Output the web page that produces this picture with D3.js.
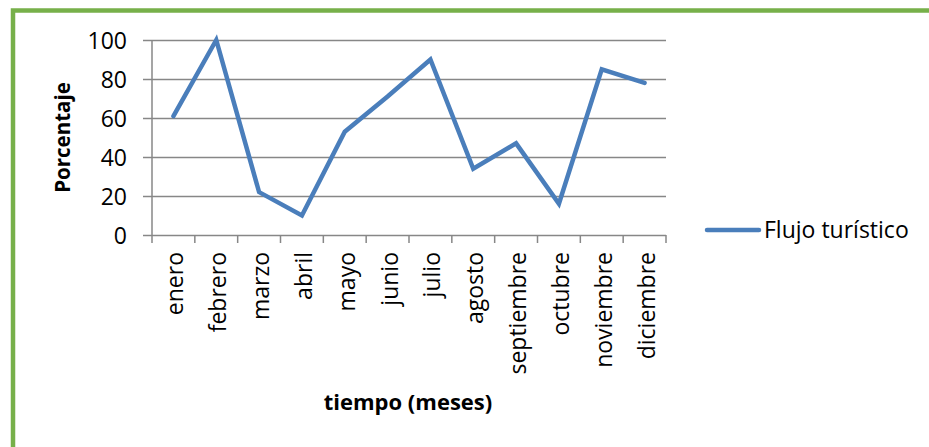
<!DOCTYPE html>
<html>
<head>
<meta charset="utf-8">
<script src="https://cdn.jsdelivr.net/npm/d3@7"></script>
<style>
  html, body { margin: 0; padding: 0; background: #fff; }
  svg { display: block; }
</style>
</head>
<body>
<svg id="chart" width="929" height="447"></svg>
<script>
// Monthly tourist flow, as a percentage
const months = ["enero", "febrero", "marzo", "abril", "mayo", "junio",
                "julio", "agosto", "septiembre", "octubre", "noviembre", "diciembre"];
const flujo = [61, 100, 22, 10, 53, 71, 90, 34, 47, 16, 85, 78];
const yTicks = [0, 20, 40, 60, 80, 100];
const seriesName = "Flujo turístico";
const yTitle = "Porcentaje";
const xTitle = "tiempo (meses)";

const svg = d3.select("#chart");
const font = "'Open Sans', sans-serif";
const gridColor = "#878787";
const lineColor = "#4A7EBB";

// outer frame
svg.append("rect")
  .attr("x", 13).attr("y", 10.5)
  .attr("width", 1000).attr("height", 1000)
  .attr("fill", "none")
  .attr("stroke", "#77B04A")
  .attr("stroke-width", 4.5);

const plot = { left: 152, right: 666, top: 40, bottom: 235 };

const x = d3.scaleBand().domain(months).range([plot.left, plot.right]);
const y = d3.scaleLinear().domain([0, 100]).range([plot.bottom, plot.top]);

// horizontal gridlines with outward ticks
const yAxis = d3.axisLeft(y).tickValues(yTicks)
  .tickSize(-(plot.right - plot.left)).tickPadding(25).tickFormat(d3.format("d"));
const gy = svg.append("g").attr("transform", `translate(${plot.left},0)`).call(yAxis);
gy.select(".domain").remove();
gy.selectAll(".tick line")
  .attr("x1", -9)
  .attr("stroke", gridColor).attr("stroke-width", 1.5);
gy.selectAll(".tick text")
  .attr("font-family", font).attr("font-size", 23).attr("fill", "#000")
  .attr("dy", "0.36em");

// vertical axis line
svg.append("line")
  .attr("x1", plot.left).attr("x2", plot.left)
  .attr("y1", plot.top).attr("y2", plot.bottom)
  .attr("stroke", gridColor).attr("stroke-width", 1.5);

// category axis: ticks on band boundaries
const bounds = months.map(m => x(m)).concat([plot.right]);
svg.append("g").selectAll("line").data(bounds).join("line")
  .attr("x1", d => d).attr("x2", d => d)
  .attr("y1", plot.bottom).attr("y2", plot.bottom + 8)
  .attr("stroke", gridColor).attr("stroke-width", 1.5);

svg.append("g").selectAll("text").data(months).join("text")
  .attr("transform", d => `translate(${x(d) + x.bandwidth() / 2 + 10},${plot.bottom + 17}) rotate(-90)`)
  .attr("text-anchor", "end")
  .attr("font-family", font).attr("font-size", 23).attr("fill", "#000")
  .text(d => d);

// data line
const line = d3.line()
  .x((d, i) => x(months[i]) + x.bandwidth() / 2)
  .y(d => y(d));
svg.append("path")
  .datum(flujo)
  .attr("d", line)
  .attr("fill", "none")
  .attr("stroke", lineColor)
  .attr("stroke-width", 4.5)
  .attr("stroke-linejoin", "miter")
  .attr("stroke-linecap", "round");

// axis titles
svg.append("text")
  .attr("transform", `translate(70,${(plot.top + plot.bottom) / 2}) rotate(-90)`)
  .attr("text-anchor", "middle")
  .attr("font-family", font).attr("font-weight", "bold").attr("font-size", 20.5)
  .text(yTitle);

svg.append("text")
  .attr("x", 408).attr("y", 410)
  .attr("text-anchor", "middle")
  .attr("font-family", font).attr("font-weight", "bold").attr("font-size", 22)
  .text(xTitle);

// legend
const lg = svg.append("g");
lg.append("line")
  .attr("x1", 707).attr("x2", 759).attr("y1", 230).attr("y2", 230)
  .attr("stroke", lineColor).attr("stroke-width", 4.5).attr("stroke-linecap", "round");
lg.append("text")
  .attr("x", 764).attr("y", 238)
  .attr("font-family", font).attr("font-size", 23).attr("fill", "#000")
  .text(seriesName);
</script>
</body>
</html>
